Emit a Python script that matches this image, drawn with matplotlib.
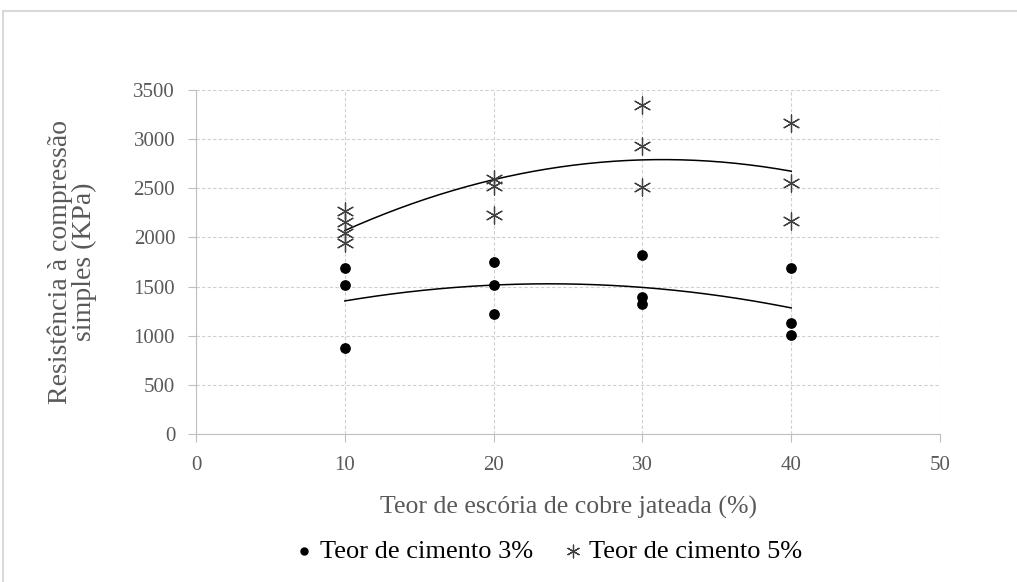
import numpy as np
import matplotlib
matplotlib.use("Agg")
import matplotlib.pyplot as plt
from matplotlib.patches import Rectangle

# Data
x3 = [10, 10, 10, 20, 20, 20, 30, 30, 30, 40, 40, 40]
y3 = [1690, 1520, 870, 1750, 1520, 1220, 1820, 1390, 1320, 1690, 1130, 1010]
x5 = [10, 10, 10, 10, 20, 20, 20, 30, 30, 30, 40, 40, 40]
y5 = [2270, 2160, 2050, 1940, 2590, 2520, 2230, 3350, 2930, 2510, 3160, 2550, 2170]
label3 = "Teor de cimento 3%"
label5 = "Teor de cimento 5%"
xlabel = "Teor de escória de cobre jateada (%)"
ylabel = "Resistência à compressão\nsimples (KPa)"
xticks = [0, 10, 20, 30, 40, 50]
yticks = [0, 500, 1000, 1500, 2000, 2500, 3000, 3500]

plt.rcParams['font.family'] = ['Liberation Serif', 'DejaVu Serif']

fig = plt.figure(figsize=(10.17, 5.82), dpi=100)
ax = fig.add_axes([196/1017, 1-434/582, (940-196)/1017, (434-90)/582])

gray = '#595959'
grid = '#d0d0d0'

# border of chart area
fig.patches.append(Rectangle((3/1017, -0.1), 1.2, 1-11/582+0.1, transform=fig.transFigure,
                             fill=False, edgecolor='#d9d9d9', linewidth=1.5))

ax.scatter(x3, y3, s=45, color='black', marker='o', zorder=3, label=label3)
ax.scatter(x5, y5, s=150, color='#404040', marker=(6, 2, 0), linewidths=0.9, zorder=3, label=label5)

xs = np.linspace(10, 40, 200)
c3 = np.polyfit(x3, y3, 2)
c5 = np.polyfit(x5, y5, 2)
ax.plot(xs, np.polyval(c3, xs), color='black', lw=1.1, zorder=2)
ax.plot(xs, np.polyval(c5, xs), color='black', lw=1.1, zorder=2)

ax.set_xlim(0, 50)
ax.set_ylim(0, 3500)
ax.set_xticks(xticks)
ax.set_yticks(yticks)
ax.grid(True, color=grid, linestyle=(0, (3, 2)), linewidth=0.8)
ax.set_axisbelow(True)
for s in ['top', 'right']:
    ax.spines[s].set_visible(False)
for s in ['left', 'bottom']:
    ax.spines[s].set_color('#bfbfbf')
ax.tick_params(axis='both', colors='#bfbfbf', labelcolor=gray, labelsize=15, length=6, width=0.8)
ax.tick_params(axis='y', pad=9)
ax.tick_params(axis='x', pad=10)

ax.set_xlabel(xlabel, fontsize=18.5, color=gray, labelpad=15)
ax.set_ylabel(ylabel, fontsize=20, color=gray, labelpad=26, linespacing=0.95)

leg = fig.legend(loc='center', bbox_to_anchor=(545/1017, 1-551/582), ncol=2, frameon=False,
                 fontsize=19, handletextpad=0.0, columnspacing=0.9, markerscale=0.75,
                 handlelength=1.2)

fig.savefig('out.png', dpi=100)
